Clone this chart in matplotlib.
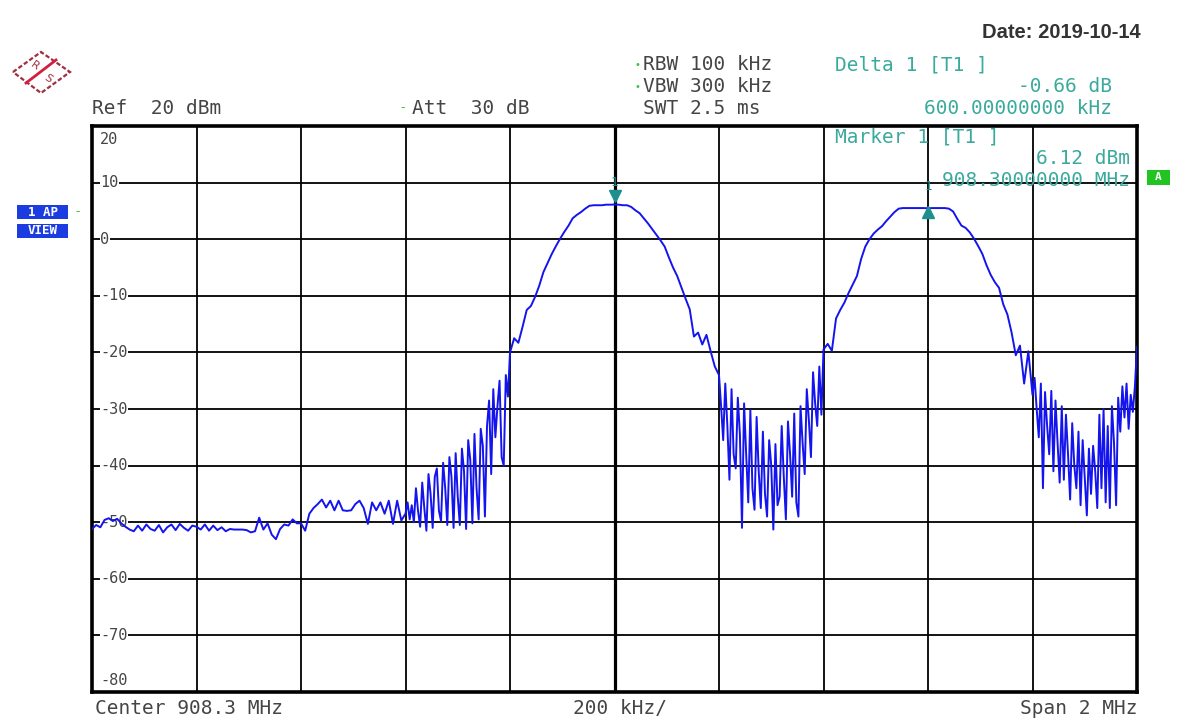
import numpy as np
import matplotlib.pyplot as plt
from matplotlib.patches import Polygon, Rectangle

W, H = 1187, 718

# sweep settings (908.3 MHz centre, 2 MHz span)
center_mhz = 908.3
span_khz = 2000
div_khz = 200
ref_level = 20
bottom_level = -80

# trace level in dBm, one list per 200 kHz division
# (the noisy divisions are read at twice the point density)
trace_div1 = [-51.2, -50.5, -50.9, -49.6, -49.3, -49.8, -49.4, -50.2, -50.8, -51.3,
              -51.6, -50.6, -51.5, -50.4, -51.2, -51.5, -50.5, -51.8, -50.9, -50.4,
              -51.4, -50.3, -51.0, -51.5, -50.6]
trace_div2 = [-50.8, -51.3, -50.4, -51.5, -50.6, -51.4, -50.9, -51.6, -51.2, -51.3,
              -51.3, -51.3, -51.4, -51.8, -51.6, -49.2, -51.3, -50.2, -52.2, -53.0,
              -51.2, -50.4, -50.6, -49.5, -50.2]
trace_div3 = [-50.2, -51.5, -48.5, -47.5, -46.8, -46.0, -47.4, -46.2, -47.9, -46.2,
              -47.9, -48.0, -47.9, -46.8, -46.2, -47.5, -50.3, -46.5, -47.9, -46.5,
              -48.5, -46.2, -50.3, -46.2, -49.7]
trace_div4 = [-48.5, -46.5, -49.5, -47.0, -50.0, -44.0, -48.0, -50.8, -43.0, -47.5,
              -51.5, -41.5, -45.0, -51.0, -42.0, -40.5, -48.0, -49.8, -39.5, -44.0,
              -50.5, -38.5, -42.0, -51.0, -37.8, -45.5, -50.5, -37.0, -41.0, -51.2,
              -35.5, -39.0, -50.2, -34.4, -44.0, -49.5, -33.5, -36.5, -49.0, -33.0,
              -28.5, -41.5, -26.5, -35.0, -29.5, -25.0, -38.5, -40.0, -24.0, -27.8]
trace_div5 = [-20.0, -17.5, -18.3, -15.5, -12.5, -11.8, -10.2, -8.2, -5.8, -4.2,
              -2.6, -1.2, 0.1, 1.3, 2.4, 3.7, 4.3, 4.8, 5.4, 5.9,
              6.0, 6.0, 6.0, 6.1, 6.1]
trace_div6 = [6.12, 6.1, 6.0, 6.0, 5.7, 5.1, 4.6, 3.7, 2.8, 1.8,
              0.8, -0.2, -1.3, -3.2, -5.0, -6.5, -8.5, -10.5, -12.4, -17.2,
              -16.5, -18.6, -16.9, -19.8, -22.5]
trace_div7 = [-24.0, -29.5, -35.5, -25.5, -33.0, -42.5, -26.5, -38.0, -40.5, -28.0,
              -34.5, -51.0, -29.0, -38.0, -46.5, -30.2, -44.0, -47.8, -31.4, -41.0,
              -47.5, -34.0, -45.0, -49.0, -35.5, -40.0, -51.3, -36.2, -47.0, -45.5,
              -33.0, -42.0, -49.5, -32.2, -38.0, -45.5, -30.8, -46.5, -49.0, -29.5,
              -36.0, -41.5, -26.5, -32.0, -38.5, -23.5, -29.0, -33.0, -22.5, -31.0]
trace_div8 = [-19.5, -18.5, -19.7, -14.0, -12.5, -11.2, -9.5, -8.0, -6.5, -3.5,
              -1.3, 0.0, 1.0, 1.7, 2.3, 3.2, 4.0, 4.8, 5.4, 5.5,
              5.5, 5.5, 5.5, 5.5, 5.5]
trace_div9 = [5.46, 5.5, 5.5, 5.5, 5.5, 5.4, 4.9, 3.6, 2.4, 2.0,
              1.2, 0.1, -1.2, -2.6, -4.6, -6.3, -7.6, -8.6, -11.5, -13.3,
              -16.5, -20.5, -18.8, -25.5, -19.8]
trace_div10 = [-27.5, -24.5, -30.0, -35.0, -25.5, -44.0, -27.0, -33.0, -38.0, -26.8,
               -41.0, -28.5, -36.0, -43.0, -29.5, -42.5, -31.0, -38.0, -46.0, -32.5,
               -40.0, -44.0, -34.0, -47.0, -35.5, -42.0, -48.8, -37.0, -45.0, -36.5,
               -41.0, -47.5, -31.0, -44.0, -30.0, -46.5, -33.0, -47.5, -29.5, -36.0,
               -47.0, -28.0, -34.0, -26.0, -31.5, -25.5, -33.5, -27.5, -30.5, -26.0,
               -19.0]

divisions = [trace_div1, trace_div2, trace_div3, trace_div4, trace_div5,
             trace_div6, trace_div7, trace_div8, trace_div9, trace_div10]

marker1_khz, marker1_dbm = 0, 6.12
delta1_khz, delta1_db = 600, -0.66

level_labels = [20, 10, 0, -10, -20, -30, -40, -50, -60, -70, -80]

mono = ['DejaVu Sans Mono']
grey = '#454545'
teal = '#3aaa9c'
blue = '#1414ee'

# frequency offset of every sweep point
offset_khz, trace_dbm = [], []
for k, vals in enumerate(divisions):
    start = -span_khz / 2 + k * div_khz
    last = k == len(divisions) - 1
    offset_khz.extend(np.linspace(start, start + div_khz, len(vals), endpoint=last))
    trace_dbm.extend(vals)


def fx(x):
    return x / W


def fy(y):
    return 1 - y / H


fig = plt.figure(figsize=(W / 100, H / 100), dpi=100)
ax = fig.add_axes([fx(92), fy(692), (1137 - 92) / W, (692 - 126) / H])

ax.set_xlim(-span_khz / 2, span_khz / 2)
ax.set_ylim(bottom_level, ref_level)
ax.set_xticks(np.arange(-span_khz / 2, span_khz / 2 + 1, div_khz))
ax.set_yticks(np.arange(bottom_level, ref_level + 1, 10))
ax.tick_params(length=0, labelbottom=False, labelleft=False)
ax.set_axisbelow(True)
ax.grid(True, color='black', lw=1.3)
ax.axvline(0, color='black', lw=2.3, zorder=0.6)
for s in ax.spines.values():
    s.set_linewidth(2.6)

# level labels inside the grid
for v in level_labels:
    yy = v
    if v == ref_level:
        yy = 17.6
    elif v == bottom_level:
        yy = -78.0
    ax.text(-984, yy, str(v), ha='left', va='center', fontsize=11, family=mono,
            color=grey, zorder=2,
            bbox=dict(facecolor='white', edgecolor='none', pad=0.6))

ax.plot(offset_khz, trace_dbm, color=blue, lw=1.4, zorder=3)

# markers
ax.plot(marker1_khz, marker1_dbm + 1.5, marker='v', color='#1e8f8f', ms=8, zorder=4)
ax.text(marker1_khz, 10.0, '1', ha='center', va='center', fontsize=9,
        family=mono, color='#1e8f8f', zorder=4)
ax.plot(delta1_khz, marker1_dbm + delta1_db - 0.6, marker='^', color='#1e8f8f', ms=8,
        zorder=4)
ax.text(delta1_khz, 9.3, '1', ha='center', va='center', fontsize=9,
        family=mono, color='#1e8f8f', zorder=4)

# header
fig.text(fx(1141), fy(33), 'Date: 2019-10-14', ha='right', va='center',
         fontsize=14.5, fontweight='bold', color='#333333',
         family=['Liberation Sans Narrow', 'Liberation Sans', 'DejaVu Sans'])

kw = dict(va='center', fontsize=14, family=mono)
fig.text(fx(92), fy(108), 'Ref  20 dBm', ha='left', color=grey, **kw)
fig.text(fx(412), fy(108), 'Att  30 dB', ha='left', color=grey, **kw)
fig.text(fx(643), fy(65), 'RBW 100 kHz', ha='left', color=grey, **kw)
fig.text(fx(643), fy(87), 'VBW 300 kHz', ha='left', color=grey, **kw)
fig.text(fx(643), fy(108), 'SWT 2.5 ms', ha='left', color=grey, **kw)
fig.text(fx(835), fy(65), 'Delta 1 [T1 ]', ha='left', color=teal, **kw)
fig.text(fx(1112), fy(87), f'{delta1_db:.2f} dB', ha='right', color=teal, **kw)
fig.text(fx(1112), fy(108), f'{delta1_khz:.8f} kHz', ha='right', color=teal, **kw)
fig.text(fx(835), fy(137), 'Marker 1 [T1 ]', ha='left', color=teal, **kw)
fig.text(fx(1130), fy(158), f'{marker1_dbm:.2f} dBm', ha='right', color=teal, **kw)
fig.text(fx(1130), fy(180), f'{center_mhz:.8f} MHz', ha='right', color=teal, **kw)

fig.text(fx(95), fy(708), f'Center {center_mhz} MHz', ha='left', color=grey, **kw)
fig.text(fx(620), fy(708), f'{div_khz} kHz/', ha='center', color=grey, **kw)
fig.text(fx(1137), fy(708), f'Span {span_khz // 1000} MHz', ha='right', color=grey, **kw)

# little green setting marks
for yy in (65, 87):
    fig.text(fx(637), fy(yy), '•', ha='center', va='center', fontsize=7, color='#40c040')
fig.text(fx(403), fy(108), '-', ha='center', va='center', fontsize=9, color='#40c040')
fig.text(fx(78), fy(212), '-', ha='center', va='center', fontsize=9, color='#40c040')

# trace info boxes
for y0, label in ((205, '1 AP'), (224, 'VIEW')):
    fig.patches.append(Rectangle((fx(17), fy(y0 + 14)), 51 / W, 14 / H,
                                 transform=fig.transFigure, facecolor='#1a3ce0',
                                 edgecolor='none'))
    fig.text(fx(42.5), fy(y0 + 7), label, ha='center', va='center', fontsize=9,
             family=mono, fontweight='bold', color='white')

fig.patches.append(Rectangle((fx(1147), fy(185)), 23 / W, 15 / H,
                             transform=fig.transFigure, facecolor='#22c422',
                             edgecolor='none'))
fig.text(fx(1158.5), fy(177.5), 'A', ha='center', va='center', fontsize=8,
         family=mono, fontweight='bold', color='white')

# R&S logo
diamond = [(fx(13), fy(72)), (fx(41), fy(52)), (fx(70), fy(72)), (fx(41), fy(93))]
fig.patches.append(Polygon(diamond, closed=True, transform=fig.transFigure,
                           facecolor='white', edgecolor='#a03040', lw=1.6,
                           linestyle=(0, (2, 1))))
fig.lines.append(plt.Line2D([fx(26), fx(56)], [fy(83), fy(60)],
                            transform=fig.transFigure, color='#d02040', lw=2))
fig.text(fx(35), fy(66), 'R', ha='center', va='center', fontsize=8, rotation=-35,
         color='#a03040')
fig.text(fx(48), fy(79), 'S', ha='center', va='center', fontsize=8, rotation=-35,
         color='#a03040')

fig.savefig('out.png', dpi=100)
